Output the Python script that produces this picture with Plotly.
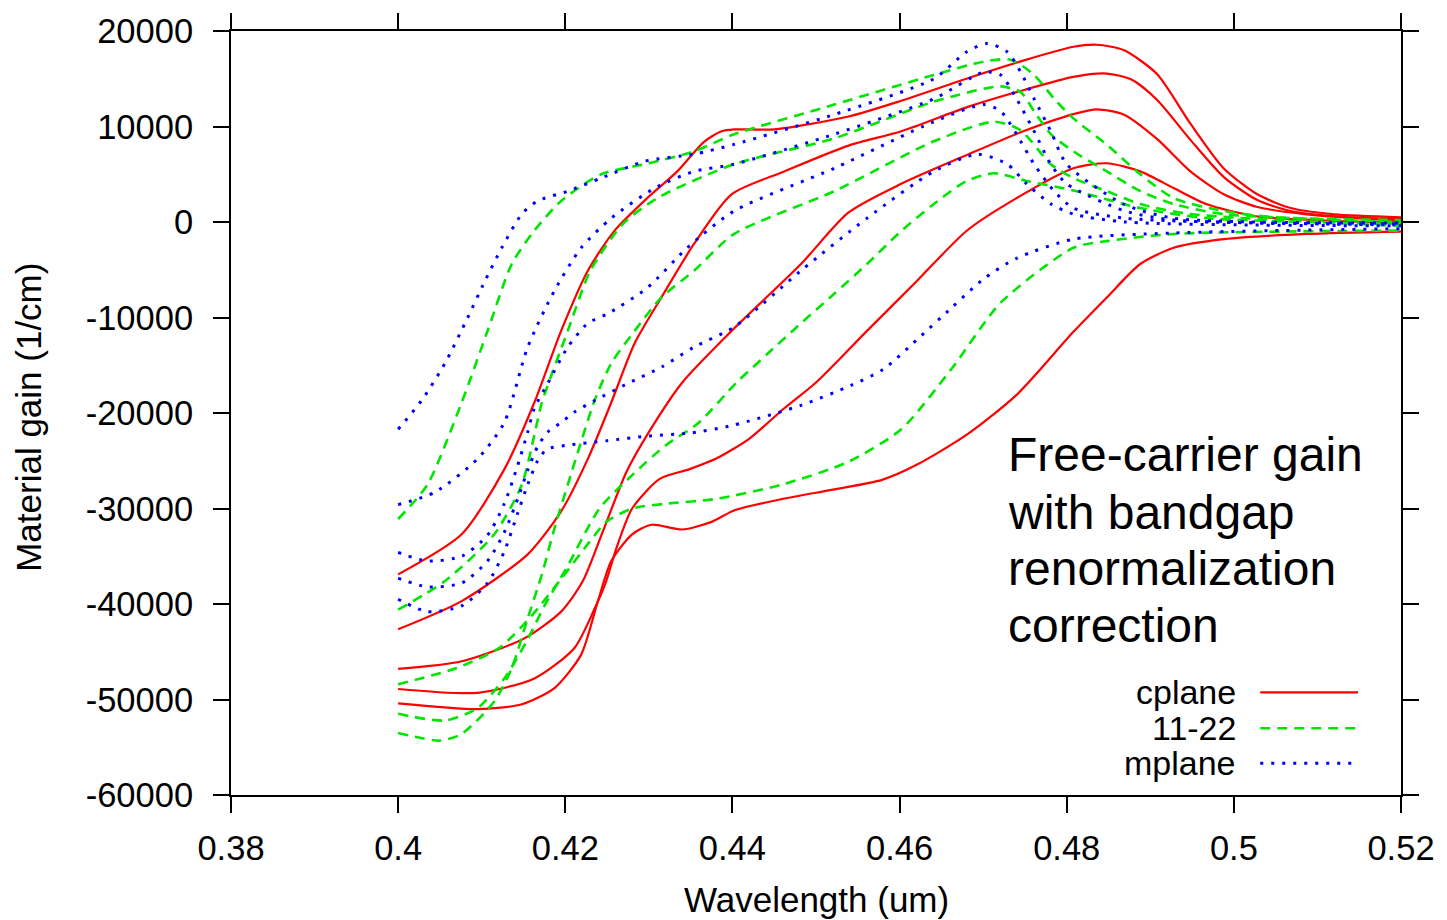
import plotly.graph_objects as go

# ---------------- data ----------------
x_ticks = [0.38, 0.40, 0.42, 0.44, 0.46, 0.48, 0.50, 0.52]
x_ticklabels = ["0.38", "0.4", "0.42", "0.44", "0.46", "0.48", "0.5", "0.52"]
y_ticks = [-60000, -50000, -40000, -30000, -20000, -10000, 0, 10000, 20000]
y_ticklabels = ["-60000", "-50000", "-40000", "-30000", "-20000", "-10000", "0", "10000", "20000"]

# cplane (red, solid)
r1_x = [0.4, 0.4076, 0.4127, 0.4163, 0.4195, 0.4227, 0.4259, 0.4298, 0.4334, 0.4366, 0.4387, 0.4402, 0.445, 0.4539, 0.4602, 0.468, 0.4748, 0.4808, 0.4836, 0.4868, 0.4908, 0.4948, 0.4988, 0.5028, 0.5068, 0.512, 0.52]
r1_y = [-36900, -32700, -25900, -18900, -11400, -5100, -900, 2500, 5300, 8400, 9500, 9700, 9700, 11050, 12700, 15000, 16900, 18350, 18560, 18000, 15500, 10300, 5600, 2900, 1460, 800, 500]
r2_x = [0.4, 0.4076, 0.4155, 0.4195, 0.4227, 0.4255, 0.4283, 0.4315, 0.4354, 0.4399, 0.4462, 0.4539, 0.4602, 0.468, 0.4748, 0.4808, 0.4848, 0.4878, 0.4908, 0.4948, 0.4988, 0.5028, 0.5068, 0.512, 0.52]
r2_y = [-42650, -39700, -34800, -30300, -24800, -18900, -12700, -7900, -2300, 2900, 5300, 8000, 9500, 12000, 13800, 15200, 15540, 14900, 12800, 8600, 4700, 2300, 1150, 600, 300]
r3_x = [0.4, 0.4076, 0.4151, 0.4195, 0.4221, 0.4245, 0.4273, 0.43, 0.434, 0.4399, 0.4482, 0.4539, 0.4602, 0.468, 0.4748, 0.4808, 0.4836, 0.4868, 0.4908, 0.4948, 0.4988, 0.5027, 0.5087, 0.52]
r3_y = [-46800, -46000, -43600, -40800, -37600, -32400, -26200, -22000, -16800, -11400, -4400, 1000, 4000, 7000, 9500, 11300, 11800, 11260, 8700, 5300, 2900, 1600, 800, 100]
r4_x = [0.4, 0.4095, 0.4163, 0.4211, 0.4235, 0.4249, 0.4261, 0.428, 0.4313, 0.4348, 0.438, 0.442, 0.4462, 0.45, 0.4561, 0.4621, 0.468, 0.474, 0.4808, 0.4848, 0.4888, 0.4928, 0.4967, 0.5027, 0.52]
r4_y = [-48900, -49300, -47800, -44600, -40500, -37600, -34200, -30000, -26900, -25900, -24800, -22700, -19500, -16800, -11400, -6150, -940, 2500, 5630, 6150, 5300, 3550, 1880, 600, -100]
r5_x = [0.4, 0.4095, 0.4148, 0.4187, 0.4219, 0.4239, 0.4255, 0.428, 0.4303, 0.434, 0.4375, 0.4402, 0.446, 0.4522, 0.4579, 0.4621, 0.468, 0.474, 0.4808, 0.4848, 0.4888, 0.4928, 0.4988, 0.5087, 0.52]
r5_y = [-50400, -51000, -50500, -48800, -45300, -39700, -35500, -32700, -31700, -32200, -31400, -30200, -29000, -28000, -27000, -25400, -22300, -18100, -11500, -7900, -4400, -2700, -1800, -1250, -1000]

# 11-22 (green, dashed)
g1_x = [0.4, 0.4035, 0.4076, 0.4107, 0.4136, 0.4163, 0.4195, 0.4243, 0.4295, 0.4354, 0.4402, 0.4522, 0.4641, 0.4701, 0.4733, 0.4761, 0.4785, 0.4808, 0.4848, 0.4888, 0.4928, 0.4988, 0.505, 0.52]
g1_y = [-31100, -27500, -18900, -11400, -4400, -900, 2200, 5000, 6050, 7400, 9180, 12300, 15400, 16800, 17000, 15400, 12900, 10850, 8100, 5000, 2500, 1150, 500, 200]
g2_x = [0.4, 0.4056, 0.4115, 0.4148, 0.4163, 0.4172, 0.4203, 0.423, 0.4269, 0.431, 0.4402, 0.4522, 0.4641, 0.4721, 0.4745, 0.4761, 0.4781, 0.4808, 0.4848, 0.4888, 0.4928, 0.4988, 0.52]
g2_y = [-40600, -37600, -32700, -27500, -22300, -18900, -11400, -5100, -200, 2500, 6050, 8760, 12600, 14200, 13600, 11600, 9200, 7400, 5300, 3230, 1880, 830, 0]
g3_x = [0.4, 0.407, 0.4121, 0.4161, 0.4193, 0.4229, 0.4249, 0.428, 0.432, 0.438, 0.4459, 0.4539, 0.4602, 0.4662, 0.4721, 0.4808, 0.4848, 0.4928, 0.52]
g3_y = [-48400, -46700, -44600, -41100, -37600, -33500, -31400, -30000, -29500, -29000, -27500, -25100, -21700, -15400, -8450, -2700, -2000, -1250, -900]
g4_x = [0.4, 0.4056, 0.4095, 0.4127, 0.4155, 0.4175, 0.4201, 0.4241, 0.428, 0.432, 0.436, 0.4405, 0.4442, 0.4482, 0.4522, 0.4561, 0.4602, 0.4641, 0.468, 0.4713, 0.4752, 0.4808, 0.4888, 0.4968, 0.52]
g4_y = [-51500, -52200, -50900, -47800, -43700, -40200, -36300, -30000, -26500, -23400, -21000, -16800, -13800, -10600, -7500, -4400, -940, 1880, 4280, 5100, 4300, 3300, 1460, 400, -200]
g5_x = [0.4, 0.405, 0.4076, 0.4115, 0.4136, 0.4155, 0.4172, 0.4187, 0.4203, 0.4219, 0.4235, 0.4255, 0.4283, 0.4315, 0.4354, 0.4402, 0.4522, 0.4641, 0.4713, 0.4745, 0.4781, 0.4808, 0.4848, 0.4888, 0.4948, 0.52]
g5_y = [-53500, -54300, -53600, -50200, -46700, -41500, -36900, -32100, -27500, -23000, -18700, -14800, -11400, -7900, -5100, -1250, 3230, 8450, 10500, 9600, 6050, 4600, 3230, 1880, 830, -400]

# mplane (blue, dotted)
b1_x = [0.4, 0.4028, 0.4056, 0.408, 0.4104, 0.4124, 0.4148, 0.4167, 0.4203, 0.4243, 0.4295, 0.4354, 0.4402, 0.4522, 0.4641, 0.468, 0.4705, 0.4729, 0.4745, 0.4761, 0.4781, 0.48, 0.4868, 0.4928, 0.52]
b1_y = [-21700, -18700, -14800, -10600, -6150, -2700, 830, 2200, 3230, 4600, 6360, 7100, 8130, 11260, 15000, 17800, 18700, 17800, 15700, 12900, 9500, 6050, 1880, 400, -100]
b2_x = [0.4, 0.4044, 0.4095, 0.4127, 0.4155, 0.4187, 0.4219, 0.4255, 0.4307, 0.4354, 0.4402, 0.4522, 0.4641, 0.4701, 0.4721, 0.474, 0.4761, 0.4781, 0.48, 0.4868, 0.4928, 0.52]
b2_y = [-29600, -28300, -24800, -21000, -13100, -7200, -2700, 400, 3550, 5300, 6050, 9200, 12900, 15700, 15400, 12900, 9500, 6050, 4000, 1200, 200, -200]
b3_x = [0.4, 0.4035, 0.4076, 0.4107, 0.4127, 0.4143, 0.4155, 0.4163, 0.4179, 0.4203, 0.4227, 0.4251, 0.4298, 0.4346, 0.4402, 0.4522, 0.4641, 0.4701, 0.4721, 0.474, 0.4761, 0.4785, 0.4808, 0.487, 0.52]
b3_y = [-34600, -35500, -35000, -32800, -29500, -25500, -22000, -19500, -16900, -13100, -10600, -9600, -6900, -2700, 1150, 5630, 10500, 12300, 11600, 9200, 6050, 3230, 1460, 400, -300]
b4_x = [0.4, 0.4035, 0.4076, 0.4107, 0.4127, 0.4143, 0.4155, 0.4167, 0.4179, 0.4195, 0.4211, 0.4235, 0.4275, 0.4315, 0.4354, 0.4402, 0.4482, 0.4561, 0.4641, 0.4693, 0.4729, 0.4752, 0.4781, 0.4808, 0.487, 0.52]
b4_y = [-37300, -38200, -37800, -35500, -32500, -29000, -26000, -23500, -22000, -21000, -19900, -18700, -16900, -15200, -13100, -11000, -5100, 400, 5300, 7100, 6050, 4000, 1900, 830, 0, -400]
b5_x = [0.4, 0.4035, 0.4076, 0.4107, 0.4127, 0.4143, 0.4155, 0.4167, 0.4178, 0.42, 0.425, 0.43, 0.435, 0.44, 0.4482, 0.4542, 0.4581, 0.4621, 0.4662, 0.47, 0.474, 0.4808, 0.4928, 0.52]
b5_y = [-39500, -40800, -40200, -37800, -34500, -30500, -27500, -25000, -23800, -23400, -22900, -22400, -22100, -21300, -19200, -17100, -15400, -12300, -9000, -6000, -3800, -1800, -1150, -700]

series = [
    ("cplane", "#ff0000", "solid", 2.2, [(r1_x, r1_y), (r2_x, r2_y), (r3_x, r3_y), (r4_x, r4_y), (r5_x, r5_y)]),
    ("11-22", "#00e600", "10px,7px", 2.6, [(g1_x, g1_y), (g2_x, g2_y), (g3_x, g3_y), (g4_x, g4_y), (g5_x, g5_y)]),
    ("mplane", "#0000ff", "3px,8px", 3.0, [(b1_x, b1_y), (b2_x, b2_y), (b3_x, b3_y), (b4_x, b4_y), (b5_x, b5_y)]),
]

FONT = "Arial, 'Liberation Sans', sans-serif"

fig = go.Figure()
for name, color, dash, width, curves in series:
    for i, (xs, ys) in enumerate(curves):
        fig.add_trace(go.Scatter(
            x=xs, y=ys, mode="lines", name=name, showlegend=False,
            line=dict(color=color, dash=dash, width=width, shape="spline", smoothing=0.7),
        ))

# plot area in pixels: x 231..1403, y 28..795
L, R, T, B = 231, 1403, 28, 795
def px(xp):
    return (xp - L) / (R - L)
def py(yp):
    return (B - yp) / (B - T)

annotations = []
# annotation text block
for txt, yc in [("Free-carrier gain", 453), ("with bandgap", 511), ("renormalization", 568), ("correction", 625)]:
    annotations.append(dict(text=txt, x=px(1007), y=py(yc), xref="paper", yref="paper",
                            xanchor="left", yanchor="middle", showarrow=False,
                            font=dict(size=48, color="black", family=FONT)))
# legend (gnuplot style: text right-aligned, sample to the right)
legend_rows = [("cplane", "#ff0000", "solid", 2.2, 692, 1360),
               ("11-22", "#00e600", "10px,7px", 2.6, 728, 1360),
               ("mplane", "#0000ff", "3px,8px", 3.0, 763, 1356)]
shapes = []
for name, color, dash, width, yc, xend in legend_rows:
    annotations.append(dict(text=name, x=px(1240), y=py(yc), xref="paper", yref="paper",
                            xanchor="right", yanchor="middle", showarrow=False,
                            font=dict(size=34, color="black", family=FONT)))
    shapes.append(dict(type="line", xref="paper", yref="paper",
                       x0=px(1262), x1=px(xend), y0=py(yc), y1=py(yc),
                       line=dict(color=color, width=width, dash=dash)))
# axis titles
annotations.append(dict(text="Wavelength (um)", x=px(817), y=py(900), xref="paper", yref="paper",
                        xanchor="center", yanchor="middle", showarrow=False,
                        font=dict(size=35, color="black", family=FONT)))
annotations.append(dict(text="Material gain (1/cm)", x=px(28), y=py(416), xref="paper", yref="paper",
                        xanchor="center", yanchor="middle", showarrow=False, textangle=-90,
                        font=dict(size=35, color="black", family=FONT)))

axis_common = dict(showgrid=False, zeroline=False, showline=True, linecolor="black", linewidth=2,
                   mirror="ticks", ticks="outside", ticklen=16, tickwidth=2, tickcolor="black",
                   tickfont=dict(size=34.5, color="black", family=FONT))

fig.update_layout(
    width=1447, height=920,
    margin=dict(l=L, r=1447 - R, t=T, b=920 - B, pad=0),
    paper_bgcolor="white", plot_bgcolor="white",
    showlegend=False,
    xaxis=dict(range=[0.38, 0.52], tickvals=x_ticks, ticktext=x_ticklabels,
               ticklabelstandoff=6, **axis_common),
    yaxis=dict(range=[-60000, 20000], tickvals=y_ticks, ticktext=y_ticklabels,
               ticklabelstandoff=13, **axis_common),
    annotations=annotations,
    shapes=shapes,
)

fig.write_html("out.html")
